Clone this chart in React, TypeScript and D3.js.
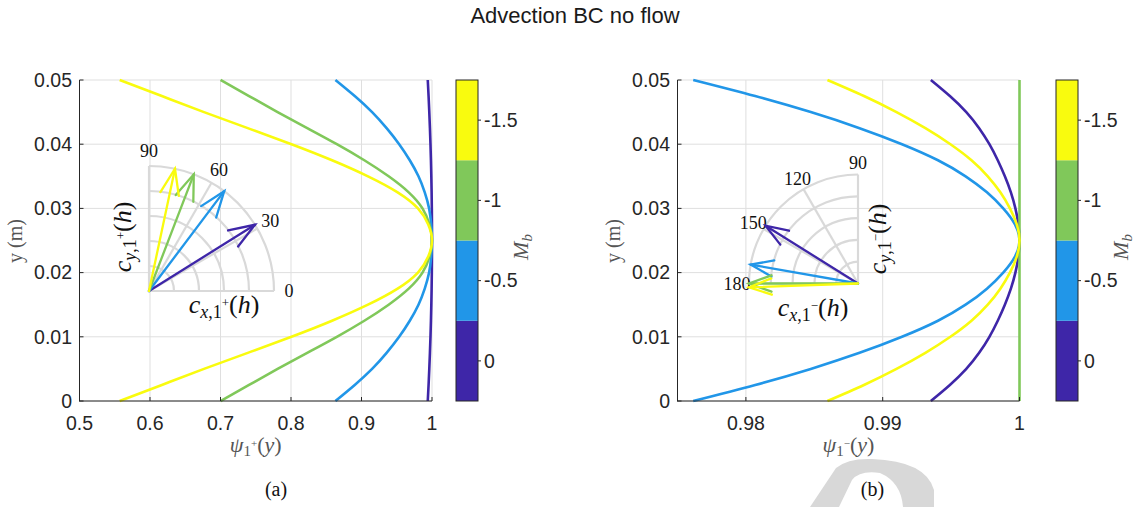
import * as d3 from 'd3'

// M_b levels and their parula colours
const mbLevels = [0, -0.5, -1, -1.5]
const mbColors = ['#3e26a8', '#2196e8', '#80c85a', '#f9fb0e']
const mbTickLabels = ['0', '-0.5', '-1', '-1.5']

// sample heights (m)
const yGrid = [0, 0.0025, 0.005, 0.0075, 0.01, 0.0125, 0.015, 0.0175, 0.02, 0.0225, 0.025,
	0.0275, 0.03, 0.0325, 0.035, 0.0375, 0.04, 0.0425, 0.045, 0.0475, 0.05]

// psi_1+(y), panel (a)
const psiPlusM0 = [0.994, 0.99514, 0.99616, 0.99706, 0.99784, 0.9985, 0.99904, 0.99946, 0.99976, 0.99994, 1,
	0.99994, 0.99976, 0.99946, 0.99904, 0.9985, 0.99784, 0.99706, 0.99616, 0.99514, 0.994]
const psiPlusM05 = [0.863, 0.8904, 0.91506, 0.93561, 0.95342, 0.96849, 0.98082, 0.98972, 0.99589, 0.9989, 1,
	0.9989, 0.99589, 0.98972, 0.98082, 0.96849, 0.95342, 0.93561, 0.91506, 0.8904, 0.863]
const psiPlusM1 = [0.7, 0.7405, 0.781, 0.823, 0.865, 0.904, 0.9385, 0.967, 0.9865, 0.9964, 1,
	0.9964, 0.9865, 0.967, 0.9385, 0.904, 0.865, 0.823, 0.781, 0.7405, 0.7]
const psiPlusM15 = [0.557, 0.6168, 0.67661, 0.73863, 0.80065, 0.85824, 0.90918, 0.95127, 0.98006, 0.99468, 1,
	0.99468, 0.98006, 0.95127, 0.90918, 0.85824, 0.80065, 0.73863, 0.67661, 0.6168, 0.557]

// psi_1-(y), panel (b)
const psiMinusM0 = [0.99352, 0.99491, 0.99611, 0.99705, 0.9978, 0.99841, 0.99893, 0.99937, 0.9997, 0.99992, 1,
	0.99992, 0.9997, 0.99937, 0.99893, 0.99841, 0.9978, 0.99705, 0.99611, 0.99491, 0.99352]
const psiMinusM05 = [0.97615, 0.98068, 0.98474, 0.98831, 0.99141, 0.99404, 0.99606, 0.99762, 0.99881, 0.99967, 1,
	0.99967, 0.99881, 0.99762, 0.99606, 0.99404, 0.99141, 0.98831, 0.98474, 0.98068, 0.97615]
const psiMinusM1 = [1, 1, 1, 1, 1, 1, 1, 1, 1, 1, 1, 1, 1, 1, 1, 1, 1, 1, 1, 1, 1]
const psiMinusM15 = [0.98596, 0.98863, 0.99101, 0.99312, 0.99495, 0.99649, 0.99768, 0.9986, 0.9993, 0.9998, 1,
	0.9998, 0.9993, 0.9986, 0.99768, 0.99649, 0.99495, 0.99312, 0.99101, 0.98863, 0.98596]

// wave directions (deg) drawn in the polar insets
const plusAngles = [32, 53, 69, 78]
const minusAngles = [148, 170, 180, 182]
const plusAngleTicks = [0, 30, 60, 90]
const minusAngleTicks = [90, 120, 150, 180]

const yTicks = [0, 0.01, 0.02, 0.03, 0.04, 0.05]
const yTickLabels = ['0', '0.01', '0.02', '0.03', '0.04', '0.05']
const plusXTicks = [0.5, 0.6, 0.7, 0.8, 0.9, 1]
const plusXTickLabels = ['0.5', '0.6', '0.7', '0.8', '0.9', '1']
const minusXTicks = [0.98, 0.99, 1]
const minusXTickLabels = ['0.98', '0.99', '1']

const SANS = '"Liberation Sans", Arial, sans-serif'
const SERIF = '"Liberation Serif", "DejaVu Serif", serif'
const AXIS = '#262626'
const GRID = '#dfdfdf'
const LABEL = '#555'

const TOP = 80
const BOTTOM = 401

function Polar({ cx, cy, R, span, ticks, angles, labelGap }) {
	const r = d3.scaleLinear().domain([0, 1]).range([0, R])
	const rad = d => (d * Math.PI) / 180
	const pt = (deg, v) => [cx + r(v) * Math.cos(rad(deg)), cy - r(v) * Math.sin(rad(deg))]
	const rings = [0.2, 0.4, 0.6, 0.8, 1]
	return (
		<g>
			{rings.map(v => {
				const p = d3.path()
				p.arc(cx, cy, r(v), -rad(span[1]), -rad(span[0]))
				return <path key={v} d={p.toString()} fill="none" stroke="#d9d9d9" strokeWidth={2.2} />
			})}
			{ticks.map(t => {
				const [x, y] = pt(t, 1)
				const [lx, ly] = pt(t, 1 + labelGap / R)
				return (
					<g key={t}>
						<line x1={cx} y1={cy} x2={x} y2={y} stroke="#d9d9d9" strokeWidth={2.2} />
						<text x={lx} y={ly} textAnchor="middle" dominantBaseline="central"
							fontFamily={SERIF} fontSize={18} fill="#111">{t}</text>
					</g>
				)
			})}
			{angles.map((a, i) => {
				const [x, y] = pt(a, 1)
				const [b1x, b1y] = [x + r(0.22) * Math.cos(rad(a + 180 - 20)), y - r(0.22) * Math.sin(rad(a + 180 - 20))]
				const [b2x, b2y] = [x + r(0.22) * Math.cos(rad(a + 180 + 20)), y - r(0.22) * Math.sin(rad(a + 180 + 20))]
				return (
					<g key={i} stroke={mbColors[i]} strokeWidth={2.3} strokeLinecap="round" fill="none">
						<line x1={cx} y1={cy} x2={x} y2={y} />
						<polyline points={`${b1x},${b1y} ${x},${y} ${b2x},${b2y}`} />
					</g>
				)
			})}
		</g>
	)
}

function CLabel({ x, y, axis, sign, rotate }) {
	return (
		<text transform={`translate(${x},${y})${rotate ? ' rotate(-90)' : ''}`} textAnchor="middle"
			fontFamily={SERIF} fontSize={26} fill="#111">
			<tspan fontStyle="italic">c</tspan>
			<tspan fontSize={18} dy={5} fontStyle="italic">{axis}</tspan>
			<tspan fontSize={18}>,1</tspan>
			<tspan fontSize={13} dy={-11}>{sign}</tspan>
			<tspan dy={6}>(</tspan>
			<tspan fontStyle="italic">h</tspan>
			<tspan>)</tspan>
		</text>
	)
}

function Panel({ left, right, domain, xTicks, xTickLabels, curves, sign, bar, inset, caption, captionX }) {
	const x = d3.scaleLinear().domain(domain).range([left, right])
	const y = d3.scaleLinear().domain([0, 0.05]).range([BOTTOM, TOP])
	const line = d3.line().x(d => x(d[0])).y(d => y(d[1])).curve(d3.curveNatural)
	const cb = d3.scaleLinear().domain([0.25, -1.75]).range([BOTTOM, TOP])
	const midX = (left + right) / 2
	return (
		<g>
			{xTicks.map(t => <line key={'gx' + t} x1={x(t)} x2={x(t)} y1={TOP} y2={BOTTOM} stroke={GRID} />)}
			{yTicks.map(t => <line key={'gy' + t} x1={left} x2={right} y1={y(t)} y2={y(t)} stroke={GRID} />)}

			<Polar {...inset} />
			<CLabel x={inset.xl[0]} y={inset.xl[1]} axis="x" sign={sign} />
			<CLabel x={inset.yl[0]} y={inset.yl[1]} axis="y" sign={sign} rotate />

			{curves.map((c, i) => (
				<path key={i} d={line(c.map((v, j) => [v, yGrid[j]]))} fill="none"
					stroke={mbColors[i]} strokeWidth={2.6} />
			))}

			<line x1={left} x2={left} y1={TOP} y2={BOTTOM + 0.5} stroke={AXIS} />
			<line x1={left} x2={right} y1={BOTTOM} y2={BOTTOM} stroke={AXIS} />
			{xTicks.map((t, i) => (
				<g key={'tx' + t}>
					<line x1={x(t)} x2={x(t)} y1={BOTTOM} y2={BOTTOM - 4} stroke={AXIS} />
					<text x={x(t)} y={430} textAnchor="middle" fontFamily={SANS} fontSize={19.5} fill={AXIS}>{xTickLabels[i]}</text>
				</g>
			))}
			{yTicks.map((t, i) => (
				<g key={'ty' + t}>
					<line x1={left} x2={left + 4} y1={y(t)} y2={y(t)} stroke={AXIS} />
					<text x={left - 7.5} y={y(t)} dy="0.35em" textAnchor="end" fontFamily={SANS} fontSize={19.5} fill={AXIS}>{yTickLabels[i]}</text>
				</g>
			))}

			<text transform={`translate(${left - 58},241) rotate(-90)`} textAnchor="middle" fontFamily={SERIF} fontSize={20} fill={LABEL}>y (m)</text>
			<text x={midX} y={452} textAnchor="middle" fontFamily={SERIF} fontSize={22} fill={LABEL}>
				<tspan fontStyle="italic">ψ</tspan>
				<tspan fontSize={15} dy={4}>1</tspan>
				<tspan fontSize={11} dy={-9}>{sign}</tspan>
				<tspan dy={5}>(</tspan>
				<tspan fontStyle="italic">y</tspan>
				<tspan>)</tspan>
			</text>

			{mbLevels.map((m, i) => (
				<rect key={'cb' + m} x={bar} width={22} y={cb(m - 0.25)} height={cb(m + 0.25) - cb(m - 0.25)} fill={mbColors[i]} />
			))}
			<rect x={bar} width={22} y={TOP} height={BOTTOM - TOP} fill="none" stroke={AXIS} />
			{mbLevels.map((m, i) => (
				<g key={'cbt' + m}>
					<line x1={bar + 22} x2={bar + 25} y1={cb(m)} y2={cb(m)} stroke={AXIS} />
					<text x={bar + 28} y={cb(m)} dy="0.35em" fontFamily={SANS} fontSize={19.5} fill={AXIS}>{mbTickLabels[i]}</text>
				</g>
			))}
			<text transform={`translate(${bar + 72},247) rotate(-90)`} textAnchor="middle" fontFamily={SERIF} fontSize={22} fill={LABEL}>
				<tspan fontStyle="italic">M</tspan>
				<tspan fontSize={15} dy={4} fontStyle="italic">b</tspan>
			</text>

			<text x={captionX} y={496} textAnchor="middle" fontFamily={SERIF} fontSize={20} fill="#111">{caption}</text>
		</g>
	)
}

export default function App() {
	return (
		<svg width={1135} height={507} style={{ position: 'absolute', left: 0, top: 0, background: '#fff' }}>
			<rect width={1135} height={507} fill="#fff" />
			<text x={575} y={22.5} textAnchor="middle" fontFamily={SANS} fontSize={22} fill="#1a1a1a">Advection BC no flow</text>

			{/* watermark fragment */}
			<path d="M810,507 L836,468 Q848,458 872,459 Q926,461 934,490 L934,507 L903,507 Q901,482 880,473 Q860,470 852,480 L839,507 Z" fill="#d8d8d8" />

			<Panel left={79.5} right={432} domain={[0.5, 1]} xTicks={plusXTicks} xTickLabels={plusXTickLabels}
				curves={[psiPlusM0, psiPlusM05, psiPlusM1, psiPlusM15]} sign="+" bar={456}
				inset={{ cx: 149, cy: 291, R: 125, span: [0, 90], ticks: plusAngleTicks, angles: plusAngles, labelGap: 15, xl: [224, 313], yl: [131, 237] }}
				caption="(a)" captionX={276} />
			<Panel left={677.5} right={1019.5} domain={[0.975, 1]} xTicks={minusXTicks} xTickLabels={minusXTickLabels}
				curves={[psiMinusM0, psiMinusM05, psiMinusM1, psiMinusM15]} sign="−" bar={1056}
				inset={{ cx: 858, cy: 283.5, R: 109, span: [90, 180], ticks: minusAngleTicks, angles: minusAngles, labelGap: 12, xl: [813, 316], yl: [886, 239] }}
				caption="(b)" captionX={872.5} />
		</svg>
	)
}
